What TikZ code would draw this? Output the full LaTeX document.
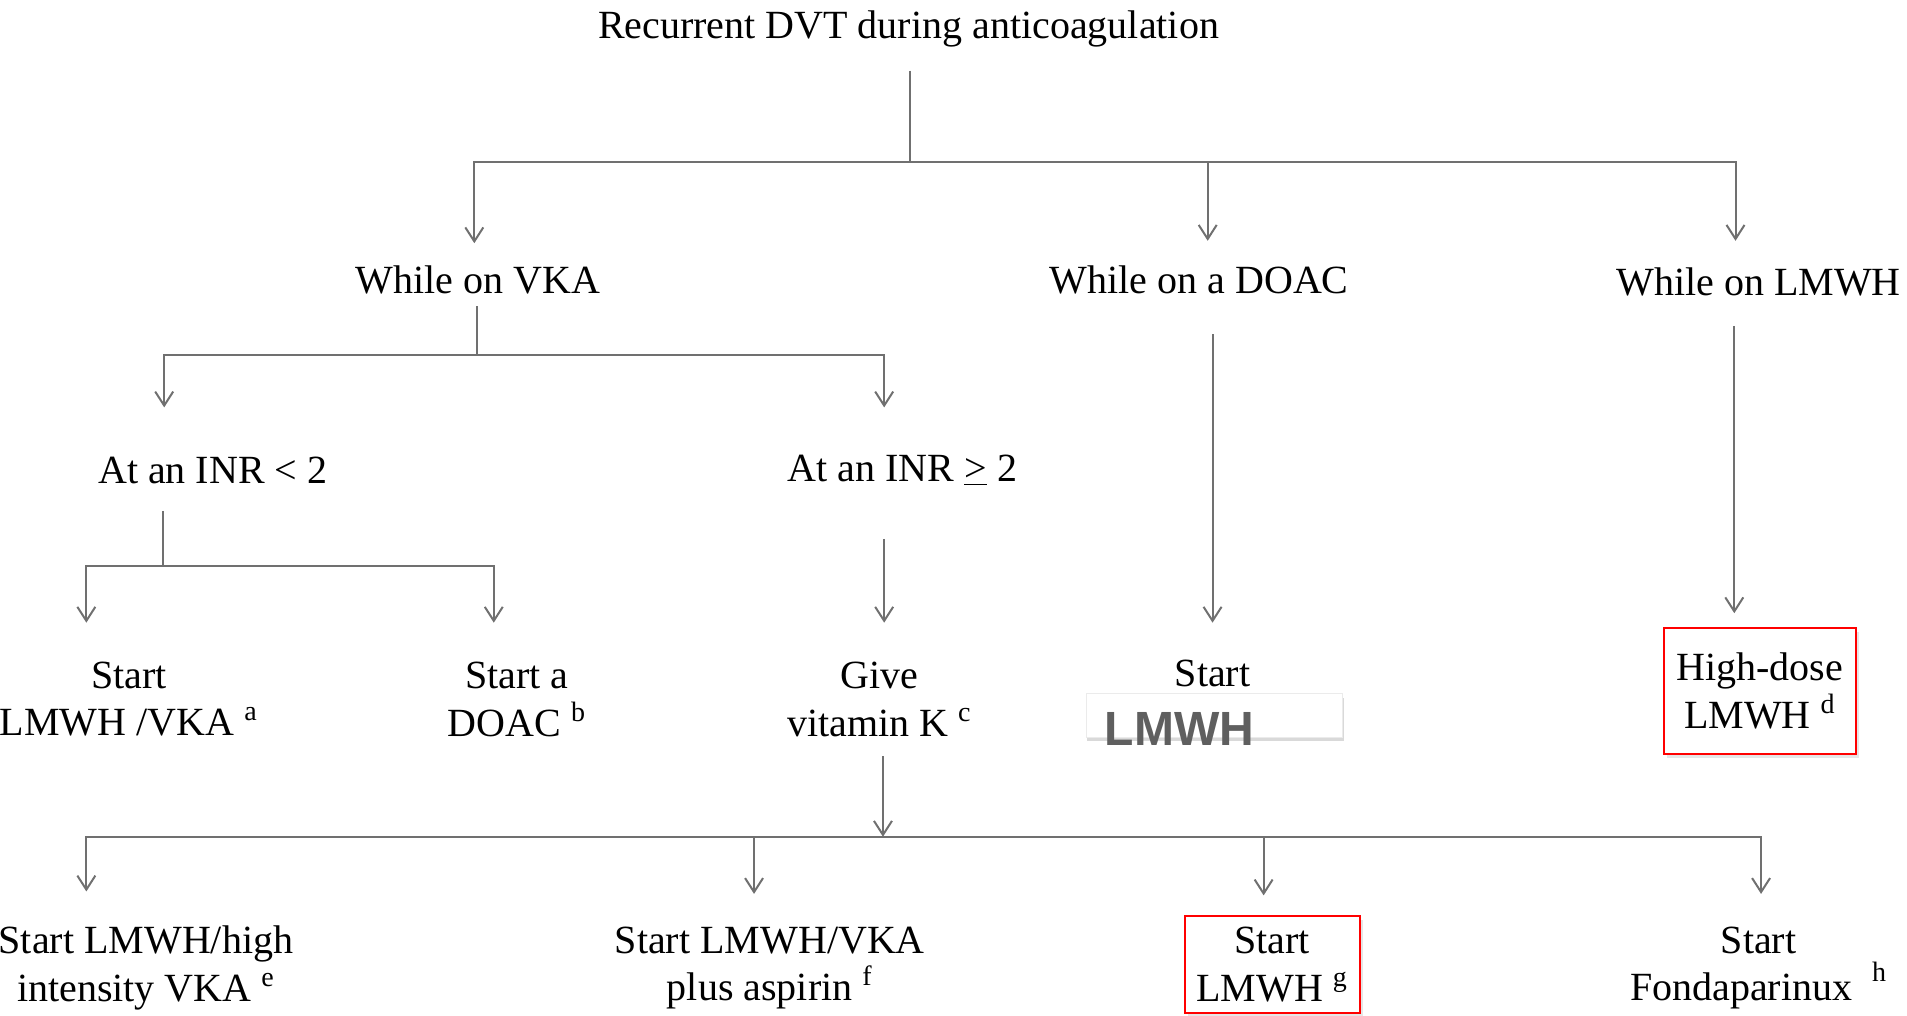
\documentclass[tikz,border=0pt]{standalone}
\usepackage{fontspec}
\setmainfont{Liberation Serif}
\newfontfamily\lsans{Liberation Sans}
\usetikzlibrary{calc,arrows.meta,shadows}
\definecolor{linegray}{RGB}{112,112,112}
\definecolor{lmgray}{RGB}{95,95,95}
\begin{document}
\begin{tikzpicture}[x=0.6081pt, y=-0.6081pt,
  ln/.style={draw=linegray, line width=1pt},
  arr/.style={ln, -{Straight Barb[length=7pt,width=9pt]}},
  txt/.style={inner sep=0pt, align=center, font=\fontsize{20}{23.7}\selectfont},
  redbox/.style={txt, draw=red, line width=1pt, fill=white,
    drop shadow={shadow xshift=1.5pt, shadow yshift=-2pt, opacity=0.2}},
  whitebox/.style={fill=white, draw=black!8, line width=0.5pt, inner sep=0pt,
    drop shadow={shadow xshift=0.6pt, shadow yshift=-2.2pt, opacity=0.3}}
]
\useasboundingbox (0,0) rectangle (1568,835);

% nodes
\node[txt] (title) at (747,24) {Recurrent DVT during anticoagulation};
\node[txt] (vka) at (393,230) {While on VKA};
\node[txt] (doac) at (986,230) {While on a DOAC};
\node[txt] (lmwh) at (1446,232) {While on LMWH};
\node[txt] (inr1) at (175,387) {At an INR < 2};
\node[txt] (inr2) at (742,387) {At an INR \underline{>} 2};
\node[txt] (slv) at (106,575) {Start\\LMWH /VKA \textsuperscript{a}};
\node[txt] (sdoac) at (425,575) {Start a\\DOAC \textsuperscript{b}};
\node[txt] (vitk) at (723,575) {Give\\vitamin K \textsuperscript{c}};
\node[txt] (sl) at (997,554) {Start};
\node[whitebox, minimum width=128.3pt, minimum height=21.9pt] (lbox) at (998.5,588) {};
\node[font=\lsans\bfseries\fontsize{24}{24}\selectfont, text=lmgray, anchor=base west, inner sep=0pt] (lt) at (908,613) {LMWH};
\node[redbox, minimum width=96pt, minimum height=63.2pt] (hd) at (1447,568) {High-dose\\LMWH \textsuperscript{d}};
\node[txt] (b1) at (120,796) {Start LMWH/high\\intensity VKA \textsuperscript{e}};
\node[txt] (b2) at (633,796) {Start LMWH/VKA\\plus aspirin \textsuperscript{f}};
\node[redbox, minimum width=87.6pt, minimum height=48.6pt] (b3) at (1046,793) {Start\\LMWH \textsuperscript{g}};
\node[txt] (b4) at (1446,796) {Start\\Fondaparinux\hspace{0.5em}\raisebox{2pt}{\textsuperscript{h}}};

% junctions
\coordinate (j0) at (748,133);
\coordinate (j1) at (392,292);
\coordinate (j2) at (134,465);
\coordinate (j3) at (726,688);

% level 1
\draw[ln] ($(title.center)+(1,34)$) -- (j0);
\draw[arr] (j0) -| ($(vka.center)+(-3,-30)$);
\draw[arr] (j0) -| ($(doac.center)+(7,-32)$);
\draw[arr] (j0) -| ($(lmwh.center)+(-19,-34)$);

% VKA branch
\draw[ln] ($(vka.center)+(-1,22)$) -- (j1);
\draw[arr] (j1) -| ($(inr1.center)+(-40,-52)$);
\draw[arr] (j1) -| ($(inr2.center)+(-15,-52)$);

% INR < 2
\draw[ln] ($(inr1.center)+(-41,33)$) -- (j2);
\draw[arr] (j2) -| ($(slv.center)+(-35,-63)$);
\draw[arr] (j2) -| ($(sdoac.center)+(-19,-63)$);

% INR >= 2
\draw[arr] ($(inr2.center)+(-15,56)$) -- ($(vitk.center)+(4,-63)$);

% DOAC
\draw[arr] ($(doac.center)+(11,45)$) -- ($(sl.center)+(0,-42)$);

% LMWH
\draw[arr] ($(lmwh.center)+(-20,36)$) -- ($(hd.north)+(-21,-11)$);

% vitamin K
\draw[arr] ($(vitk.center)+(3,47)$) -- (j3);
\draw[arr] (j3) -| ($(b1.center)+(-49,-63)$);
\draw[arr] (j3) -| ($(b2.center)+(-13,-61)$);
\draw[arr] (j3) -| ($(b3.north)+(-7,-16)$);
\draw[arr] (j3) -| ($(b4.center)+(2,-61)$);
\end{tikzpicture}
\end{document}
